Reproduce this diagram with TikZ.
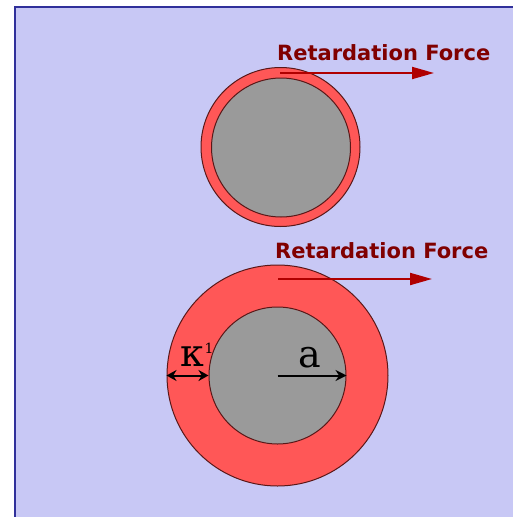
\documentclass[tikz,border=0pt]{standalone}
\usepackage{fontspec}
\setmainfont{DejaVu Sans}
\newfontfamily\dserif{DejaVu Serif}
\usetikzlibrary{arrows.meta}
\definecolor{bgc}{HTML}{C8C8F5}
\definecolor{framec}{HTML}{30309A}
\definecolor{shellc}{HTML}{FF5757}
\definecolor{corec}{HTML}{9A9A9A}
\definecolor{edgec}{HTML}{5A1818}
\definecolor{forcec}{HTML}{B00000}
\definecolor{labelc}{HTML}{800000}
\begin{document}
\begin{tikzpicture}[x=1pt,y=-1pt,
  shell/.style={circle,draw=edgec,line width=1pt,fill=shellc,inner sep=0pt},
  core/.style={circle,draw=edgec,line width=1pt,fill=corec,inner sep=0pt},
  force/.style={draw=forcec,line width=2pt,-{Triangle[length=22pt,width=12pt]}},
  forcelabel/.style={text=labelc,font=\fontsize{21}{25}\selectfont\bfseries,inner sep=0pt,anchor=base west},
  dim/.style={draw=black,line width=2pt},
  sym/.style={font=\dserif\fontsize{38}{44}\selectfont,inner sep=0pt,anchor=base}]
\useasboundingbox (0,0) rectangle (512,517);
\fill[white] (0,0) rectangle (512,517);
\fill[bgc] (15,7) rectangle (514,519);
\draw[framec,line width=1.8pt] (15,519) -- (15,7) -- (514,7);
% top particle
\node[shell,minimum size=159pt] (s1) at (280.5,147) {};
\node[core,minimum size=139pt] (c1) at (281,147.5) {};
\coordinate (f1a) at (280,73);
\coordinate (f1b) at (434,73);
\draw[force] (f1a) -- (f1b);
\node[forcelabel] (t1) at (277,60) {Retardation Force};
% bottom particle
\node[shell,minimum size=221pt] (s2) at (277.5,375.5) {};
\node[core,minimum size=137pt] (c2) at (277.5,375.5) {};
\coordinate (f2a) at (278,279);
\coordinate (f2b) at (432,279);
\draw[force] (f2a) -- (f2b);
\node[forcelabel] (t2) at (275,258) {Retardation Force};
% dimensions
\draw[dim,{Stealth[length=10pt,width=11pt]}-{Stealth[length=10pt,width=11pt]}] (s2.west) -- (c2.west);
\draw[dim,-{Stealth[length=11pt,width=11pt]}] (c2.center) -- (c2.east);
\node[sym] (kap) at (192.5,366) {κ};
\node[font=\dserif\fontsize{14}{16}\selectfont,inner sep=0pt,anchor=base] (one) at (209,353) {1};
\node[sym] (arad) at (309.5,367) {a};
\end{tikzpicture}
\end{document}
